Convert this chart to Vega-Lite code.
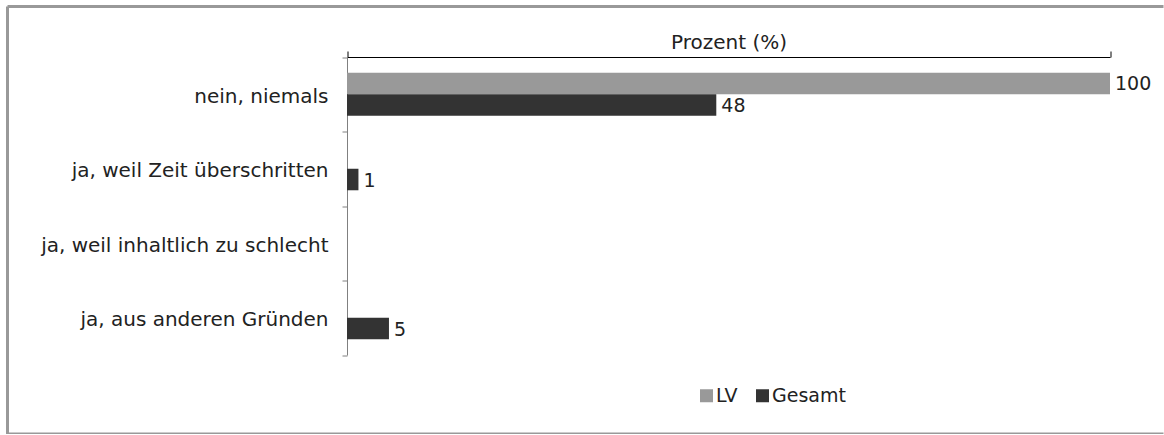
{
  "$schema": "https://vega.github.io/schema/vega-lite/v6.json",
  "autosize": {"type": "none"},
  "padding": {"left": 7.5, "top": 6.5, "right": 0, "bottom": 0},
  "width": 1156,
  "height": 427.5,
  "background": "#ffffff",
  "view": {"stroke": "#999999", "strokeWidth": 3, "strokeDash": [1156, 427.5, 1583.5, 0]},
  "config": {
    "font": "DejaVu Sans",
    "text": {"font": "DejaVu Sans"}
  },
  "data": {
    "values": [
      {"kategorie": "nein, niemals", "gruppe": "LV", "wert": 100, "label": "100"},
      {"kategorie": "nein, niemals", "gruppe": "Gesamt", "wert": 48.4, "label": "48"},
      {"kategorie": "ja, weil Zeit überschritten", "gruppe": "LV", "wert": 0, "label": ""},
      {"kategorie": "ja, weil Zeit überschritten", "gruppe": "Gesamt", "wert": 1.5, "label": "1"},
      {"kategorie": "ja, weil inhaltlich zu schlecht", "gruppe": "LV", "wert": 0, "label": ""},
      {"kategorie": "ja, weil inhaltlich zu schlecht", "gruppe": "Gesamt", "wert": 0, "label": ""},
      {"kategorie": "ja, aus anderen Gründen", "gruppe": "LV", "wert": 0, "label": ""},
      {"kategorie": "ja, aus anderen Gründen", "gruppe": "Gesamt", "wert": 5.5, "label": "5"}
    ]
  },
  "encoding": {
    "y": {
      "field": "kategorie",
      "type": "nominal",
      "sort": ["nein, niemals", "ja, weil Zeit überschritten", "ja, weil inhaltlich zu schlecht", "ja, aus anderen Gründen"],
      "scale": {"range": [50.5, 348.5], "paddingInner": 0, "paddingOuter": 0},
      "axis": {
        "title": null,
        "offset": -339.5,
        "tickBand": "extent",
        "domainColor": "#808080",
        "tickColor": "#808080",
        "tickSize": 5,
        "labelPadding": 14,
        "labelOffset": 2,
        "labelFontSize": 20,
        "labelColor": "#222222",
        "labelFont": "DejaVu Sans",
        "labelLimit": 400,
        "grid": false
      }
    },
    "yOffset": {
      "field": "gruppe",
      "type": "nominal",
      "sort": ["LV", "Gesamt"],
      "scale": {"paddingOuter": 0.73, "paddingInner": 0}
    },
    "x": {
      "field": "wert",
      "type": "quantitative",
      "scale": {"domain": [0, 100], "range": [339.5, 1102.5], "nice": false},
      "axis": {
        "orient": "top",
        "offset": -50.5,
        "values": [0, 100],
        "labels": false,
        "ticks": true,
        "tickSize": 6,
        "tickColor": "#000000",
        "domainColor": "#000000",
        "grid": false,
        "title": "Prozent (%)",
        "titleFont": "DejaVu Sans",
        "titleFontSize": 20,
        "titleFontWeight": "normal",
        "titleColor": "#222222",
        "titlePadding": -2
      }
    }
  },
  "layer": [
    {
      "mark": {"type": "bar"},
      "encoding": {
        "color": {
          "field": "gruppe",
          "type": "nominal",
          "scale": {"domain": ["LV", "Gesamt"], "range": ["#999999", "#333333"]},
          "legend": {
            "title": null,
            "orient": "none",
            "direction": "horizontal",
            "legendX": 689.5,
            "legendY": 379.5,
            "padding": 0,
            "symbolType": "square",
            "symbolSize": 169,
            "symbolStrokeWidth": 0,
            "labelFont": "DejaVu Sans",
            "labelFontSize": 19,
            "labelColor": "#222222",
            "labelOffset": 0,
            "columnPadding": 15
          }
        }
      }
    },
    {
      "mark": {"type": "text", "align": "left", "baseline": "middle", "dx": 5, "dy": 1, "fontSize": 19, "color": "#222222"},
      "encoding": {
        "text": {"field": "label", "type": "nominal"}
      }
    }
  ]
}
